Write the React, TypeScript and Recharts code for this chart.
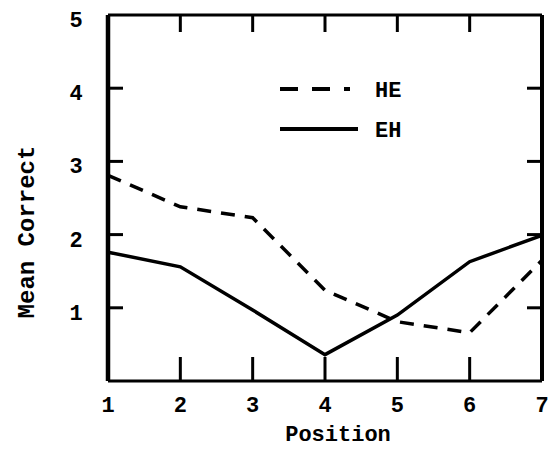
import React from 'react'
import { Legend, Line, LineChart, XAxis, YAxis } from 'recharts'

const positions = [1, 2, 3, 4, 5, 6, 7]
const seriesNames = ['HE', 'EH']
const heValues = [2.81, 2.38, 2.23, 1.24, 0.81, 0.66, 1.65]
const ehValues = [1.76, 1.56, 0.97, 0.36, 0.9, 1.63, 1.99]
const xTicks = [1, 2, 3, 4, 5, 6, 7]
const yTicks = [1, 2, 3, 4, 5]
const innerXTicks = [2, 3, 4, 5, 6]
const innerYTicks = [1, 2, 3, 4]

const data = positions.map((p, i) => ({ pos: p, HE: heValues[i], EH: ehValues[i] }))

const FONT = "'Liberation Mono', 'DejaVu Sans Mono', monospace"

// bottom axis: label below, tick mark pointing up into the plot
function BottomTick(props: any) {
   const { x, y, payload } = props
   const axisY = y - 23
   const inner = payload.value > 1 && payload.value < 7
   return (
      <g>
         {inner && <line x1={x} y1={axisY} x2={x} y2={axisY - 24} stroke="#000" strokeWidth={3} />}
         <text x={x} y={y} dy="0.36em" textAnchor="middle" fontFamily={FONT} fontWeight={700} fontSize={22} fill="#000">
            {payload.value}
         </text>
      </g>
   )
}

function LeftTick(props: any) {
   const { x, y, payload } = props
   const axisX = x + 32
   return (
      <g>
         {payload.value < 5 && <line x1={axisX} y1={y} x2={axisX + 15} y2={y} stroke="#000" strokeWidth={3} />}
         <text x={x} y={y + 4} dy="0.36em" textAnchor="middle" fontFamily={FONT} fontWeight={700} fontSize={22} fill="#000">
            {payload.value}
         </text>
      </g>
   )
}

function TopTick(props: any) {
   const { x, y } = props
   return (
      <g>
         <line x1={x} y1={y} x2={x} y2={y + 17} stroke="#000" strokeWidth={3} />
      </g>
   )
}

function RightTick(props: any) {
   const { x, y } = props
   return (
      <g>
         <line x1={x} y1={y} x2={x - 15} y2={y} stroke="#000" strokeWidth={3} />
      </g>
   )
}

function renderLegend(props: any) {
   const items = [...(props.payload || [])].sort(
      (a: any, b: any) => seriesNames.indexOf(a.value) - seriesNames.indexOf(b.value)
   )
   return (
      <svg width={160} height={80} style={{ overflow: 'visible' }}>
         {items.map((entry: any, i: number) => {
            const dashed = !!entry.payload?.strokeDasharray
            const cy = 17 + i * 40
            return (
               <g key={entry.value}>
                  <line
                     x1={5}
                     y1={cy}
                     x2={dashed ? 75 : 83}
                     y2={cy}
                     stroke="#000"
                     strokeWidth={4}
                     strokeDasharray={dashed ? '18 14' : undefined}
                  />
                  <text x={100} y={cy} dy="0.36em" fontFamily={FONT} fontWeight={700} fontSize={22} fill="#000">
                     {entry.value}
                  </text>
               </g>
            )
         })}
      </svg>
   )
}

export default function App() {
   return (
      <div style={{ position: 'absolute', left: 0, top: 0, background: '#fff' }}>
         <LineChart width={551} height={449} data={data} margin={{ top: 14, right: 8, bottom: 0, left: 0 }}>
            <XAxis
               dataKey="pos"
               type="number"
               domain={[1, 7]}
               ticks={xTicks}
               interval={0}
               height={68}
               tickSize={0}
               tickMargin={23}
               tickLine={false}
               axisLine={{ stroke: '#000', strokeWidth: 3 }}
               tick={<BottomTick />}
               label={(p: any) => {
                  const vb = p.viewBox
                  return (
                     <text x={vb.x + vb.width / 2 + 13} y={vb.y + 60} textAnchor="middle" fontFamily={FONT} fontWeight={700} fontSize={22} fill="#000">
                        Position
                     </text>
                  )
               }}
            />
            <XAxis
               xAxisId="top"
               orientation="top"
               dataKey="pos"
               type="number"
               domain={[1, 7]}
               allowDataOverflow
               ticks={innerXTicks}
               interval={0}
               height={1}
               tickSize={0}
               tickMargin={0}
               tickLine={false}
               axisLine={{ stroke: '#000', strokeWidth: 3 }}
               tick={<TopTick />}
            />
            <YAxis
               type="number"
               domain={[0, 5]}
               ticks={yTicks}
               interval={0}
               width={108}
               tickSize={0}
               tickMargin={32}
               tickLine={false}
               axisLine={{ stroke: '#000', strokeWidth: 4.5 }}
               tick={<LeftTick />}
               label={(p: any) => {
                  const vb = p.viewBox
                  const lx = vb.x + 25
                  const ly = vb.y + vb.height / 2 + 34
                  return (
                     <text x={lx} y={ly} dy="0.36em" textAnchor="middle" transform={`rotate(-90, ${lx}, ${ly})`} fontFamily={FONT} fontWeight={700} fontSize={24} fill="#000">
                        Mean Correct
                     </text>
                  )
               }}
            />
            <YAxis
               yAxisId="right"
               orientation="right"
               type="number"
               domain={[0, 5]}
               allowDataOverflow
               ticks={innerYTicks}
               interval={0}
               width={1}
               tickSize={0}
               tickMargin={0}
               tickLine={false}
               axisLine={{ stroke: '#000', strokeWidth: 4 }}
               tick={<RightTick />}
            />
            <Legend
               layout="vertical"
               align="center"
               verticalAlign="middle"
               content={renderLegend}
               wrapperStyle={{ left: 275, top: 72, width: 160 }}
            />
            <Line
               dataKey="HE"
               name="HE"
               type="linear"
               stroke="#000"
               strokeWidth={3.5}
               strokeDasharray="14 10"
               dot={false}
               isAnimationActive={false}
            />
            <Line
               dataKey="EH"
               name="EH"
               type="linear"
               stroke="#000"
               strokeWidth={3.5}
               dot={false}
               isAnimationActive={false}
            />
         </LineChart>
      </div>
   )
}
